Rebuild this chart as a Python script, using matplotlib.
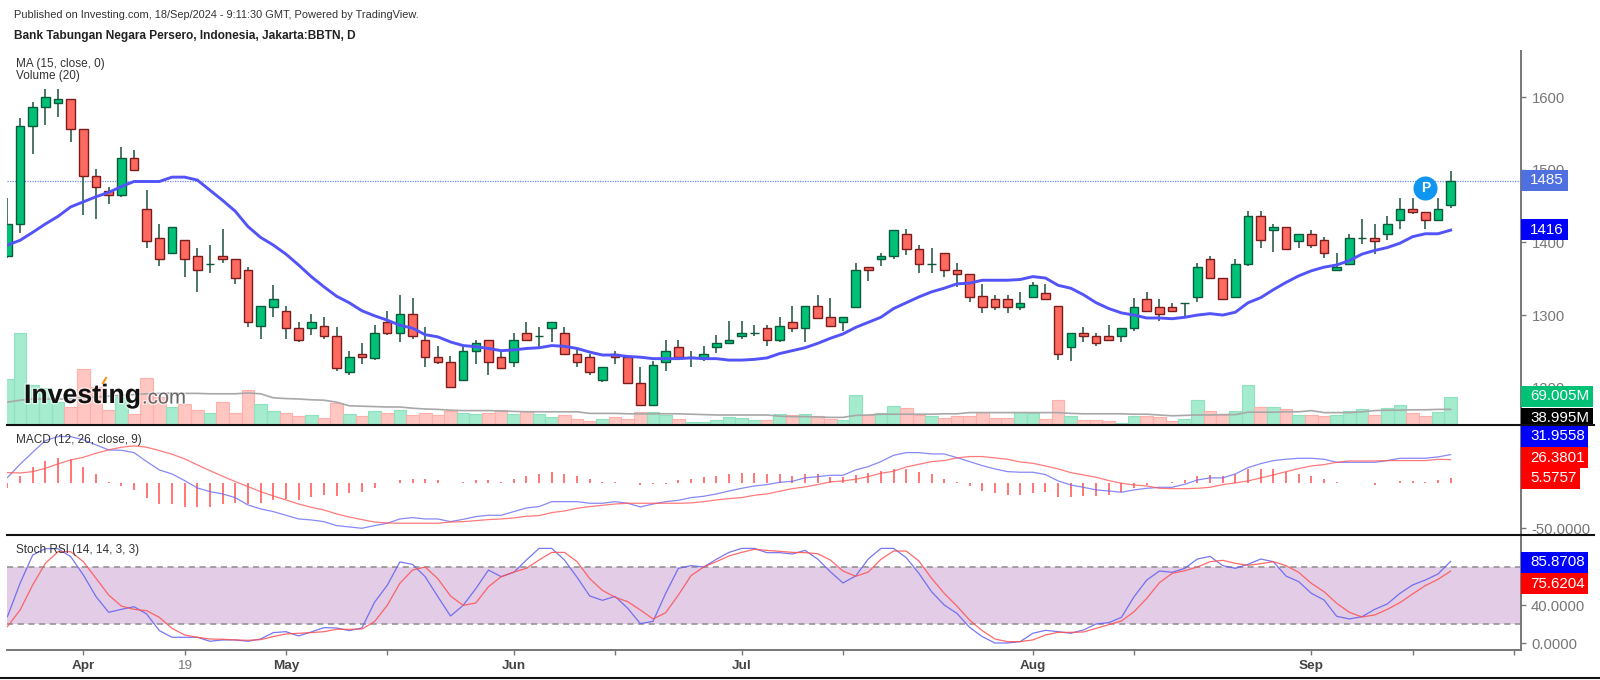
import matplotlib
matplotlib.use("Agg")
import matplotlib.pyplot as plt
from matplotlib.patches import Rectangle
from matplotlib.lines import Line2D
from matplotlib.transforms import Bbox
import matplotlib.patheffects as pe

plt.rcParams['font.family'] = ['Liberation Sans', 'DejaVu Sans']

opens = [1381,1426,1560,1586,1592,1597,1557,1491,1471,1465,1517,1446,1406,1386,1403,1382,1371,1382,1377,1362,
         1285,1311,1305,1282,1282,1285,1271,1222,1247,1241,1291,1276,1302,1266,1242,1236,1211,1251,1266,1242,
         1236,1276,1271,1282,1276,1247,1242,1210,1247,1242,1207,1176,1236,1256,1242,1241,1256,1261,1271,1276,
         1282,1265,1291,1282,1312,1297,1291,1311,1366,1377,1382,1412,1391,1371,1386,1362,1356,1326,1322,1322,
         1311,1325,1331,1312,1256,1276,1271,1271,1271,1282,1322,1311,1311,1316,1325,1377,1351,1325,1371,1437,
         1417,1422,1402,1411,1403,1362,1371,1406,1406,1411,1431,1446,1442,1431,1451]
highs = [1461,1572,1593,1612,1612,1597,1557,1501,1477,1532,1527,1472,1426,1422,1403,1392,1397,1418,1377,1366,
         1312,1342,1312,1291,1302,1297,1283,1251,1262,1286,1306,1327,1323,1283,1257,1243,1256,1266,1266,1251,
         1276,1291,1283,1291,1283,1256,1247,1228,1251,1242,1228,1237,1266,1266,1251,1257,1272,1292,1292,1286,
         1286,1297,1312,1312,1327,1323,1297,1372,1366,1386,1417,1418,1397,1392,1386,1372,1356,1343,1327,1327,
         1332,1346,1343,1312,1276,1283,1276,1286,1282,1323,1332,1322,1316,1316,1372,1382,1351,1377,1443,1443,
         1426,1422,1411,1417,1407,1386,1411,1432,1426,1437,1461,1461,1442,1461,1498]
lows = [1378,1413,1522,1562,1573,1538,1438,1432,1453,1462,1498,1392,1367,1384,1352,1332,1358,1372,1343,1283,
        1267,1298,1267,1263,1272,1267,1223,1217,1232,1238,1273,1263,1267,1228,1232,1201,1211,1232,1217,1227,
        1228,1266,1253,1263,1247,1228,1217,1208,1232,1207,1176,1176,1223,1242,1228,1237,1248,1261,1267,1271,
        1257,1263,1277,1263,1296,1285,1278,1311,1347,1367,1377,1383,1358,1358,1352,1338,1318,1303,1307,1303,
        1307,1323,1322,1238,1237,1263,1257,1264,1263,1278,1305,1292,1304,1298,1318,1351,1322,1325,1367,1392,
        1387,1391,1392,1392,1378,1362,1371,1398,1384,1403,1418,1439,1418,1431,1447]
closes = [1426,1561,1587,1601,1597,1557,1491,1477,1466,1517,1500,1402,1377,1422,1377,1362,1371,1377,1351,1291,
          1312,1322,1282,1265,1291,1271,1227,1242,1242,1276,1276,1302,1271,1242,1236,1201,1251,1262,1236,1227,
          1266,1266,1271,1291,1247,1236,1221,1228,1242,1207,1176,1231,1251,1242,1242,1247,1262,1266,1276,1276,
          1265,1285,1282,1312,1296,1285,1297,1362,1362,1382,1417,1391,1371,1371,1362,1356,1325,1311,1311,1311,
          1317,1342,1322,1247,1276,1271,1261,1265,1282,1311,1305,1301,1306,1316,1366,1351,1322,1371,1437,1403,
          1422,1391,1411,1397,1386,1366,1406,1406,1402,1426,1446,1442,1431,1446,1485]
ma15 = [1396.5,1403,1414,1425.5,1436,1449,1456,1463,1469,1477,1484,1484,1484,1490,1490,1486,1472,1458,1443,1422,
        1407,1396.5,1384,1369,1353,1339,1326,1317,1306,1299,1293,1286,1282,1273,1270,1263,1258,1256.5,1254,1251,
        1252,1254,1255,1258,1257,1254,1249,1245,1245,1243,1242,1240,1240,1240,1241,1240,1240,1238,1238,1239,
        1241,1247,1251,1255,1261,1268,1274,1283,1290,1297,1309,1317,1325,1332,1337,1343,1344,1348,1348,1348,
        1349,1353,1351,1341,1337,1328,1317,1309,1303,1300,1296,1296,1295,1297,1300,1302,1300,1304,1317,1324,
        1335,1345,1354,1361,1366,1369,1375,1384,1389,1393,1399,1408,1412,1412,1417]
volume = [115,231,100,92,58,44,141,95,37,71,27,118,71,44,52,37,31,58,31,87,
          52,35,31,22,24,17,54,27,22,35,31,37,25,31,25,34,31,27,31,37,
          27,34,27,21,25,14,11,14,21,14,33,33,25,14,7,7.5,12,21,17,13,
          12,27,25,27,23,14,12,74,25,31,47,42,25,22,17,22,22,33,17,17,
          32,29,14,62,23,12.5,12.5,10,6,23,23,21,10,16,62,36,26,36,99,46,
          46,40,26,26,23,26,36,39,26,42,49,30,23,33,69.005]
vol_ma = [57,62,65,65,65,65,68,70,72,74,76,78,79,80,79,79,78,78,78,80,
          78,68,66,65,63,62,57,48,47,46,45,45,42,40,39,37,36,36,36,35,
          34,33,33,33,33,33,29,29,29,28,28,28,28,28,27,26,25,25,25,25,
          25,22,21,21,20,19,19,24,25,27,27,27,27,27,28,28,31,31,31,31,
          31,31,31,31,29,28,28,28,28,27,27,25,23,24,25,25,26,26,32,32,
          32,33,33,36,31,31,31,33,36,37,37,38,38,39,38.995]
macd_line = [6.3,21.2,34.6,47.6,52.1,52.1,48.4,42.8,37.2,36.8,34.2,24.2,14.9,10.4,3.0,-5.2,-9.3,-11.9,-16,-24.2,
             -28.6,-31.6,-35.7,-39.8,-40.9,-42.8,-47.2,-48.7,-50.2,-47.2,-44.6,-39.8,-38.3,-39.8,-39.8,-42.8,-40.2,-37.2,-35.7,-35.7,
             -31.6,-27.5,-26,-20.5,-20.5,-20.5,-22.3,-22.3,-20.5,-22.3,-26.4,-23.1,-20.5,-19,-16,-14.5,-11.9,-8.6,-5.6,-3,
             -1.5,1.1,2.2,6,7.4,8.9,8.9,14.9,18.6,24.2,31.2,34.2,34.2,32.7,32.7,28.6,24.2,19.7,16,13,
             12.3,12.3,9.7,2.6,-1.9,-4.5,-7.4,-8.6,-10,-7.4,-5.6,-4.5,-4.5,-1.1,3.7,6,6,10.4,17.5,21.9,
             25.3,26.8,27.9,27.9,26.8,23.4,23.4,23.4,23.4,25.3,27.9,27.9,27.9,29.4,31.9558]
macd_signal = [11.9,11.5,13,16.7,21.6,26,29,33.5,37.2,40.2,41.7,40.2,36.5,32.4,27.2,20.5,14.1,7.8,1.9,-3.7,
               -9.3,-14.1,-18.6,-23.1,-26.8,-29.8,-34.2,-37.6,-40.5,-43.2,-44.3,-44.6,-44.6,-44.6,-44.6,-43.2,-42.8,-41.7,-40.5,-39.8,
               -38.7,-36.8,-36.1,-32.7,-30.9,-27.9,-26,-24.6,-23.1,-22.3,-22.3,-22.3,-22.3,-22.3,-21.9,-20.5,-18.6,-17.1,-16,-13.4,
               -11.9,-8.9,-6,-4.1,-1.5,1.5,2.6,4.5,7.4,11.2,13.4,18.2,21.2,24.2,25.3,28.3,29.8,29.8,28.3,26.8,
               23.8,22.3,19.3,16,11.9,9.3,6.7,3,0,-1.9,-3,-5.6,-6,-6,-5.6,-4.5,-1.5,0.4,2.6,6,
               9.3,13,16.4,19.3,20.8,23.4,24.9,24.9,24.9,25.3,25.3,25.3,25.3,26.8,26.3801]
macd_hist = [-5.6,8.2,18.6,25.3,28.3,26.8,18.6,10,1.1,-2.5,-7,-16.7,-23,-23,-26,-26,-26,-23,-21.6,-23,
             -21.6,-18.6,-17.9,-18.6,-14.9,-12.6,-14.5,-11.2,-9.7,-5.6,0.4,3.7,4.8,4.8,3.7,0.7,1.5,3.7,3.7,1.9,
             4.8,8.2,10,13,10,8.2,5.2,1.9,1.9,0.3,-1.9,-1.1,-0.4,3.7,5.2,7.1,8.2,10,11.2,11.2,
             10,10,8.2,10,10,7.1,7.1,9.3,11.2,13.4,16.4,16,13,10,5.2,1.9,-2.6,-8.6,-11.2,-12.6,
             -12.6,-11.2,-9.7,-14.9,-14.9,-14.1,-14.1,-12.6,-9.7,-5.6,-2.2,0.3,1.5,3.3,7.8,9.3,7.8,10.8,16,16,
             16,13,10.8,8.2,5.2,1.1,0.1,0.1,-1.5,0.1,2.2,2.2,1.9,3.7,5.5757]
stoch_k = [27.7,62.8,92.6,99.3,99.3,90.9,71.6,48.8,32.3,35.4,38.2,30.5,13,6,6,6,1.8,3.2,3.2,1.8,
           4.2,10.9,11.9,7.4,11.6,16.1,15.8,13,15.8,42.8,60.7,85.3,82.8,69.8,48.8,28.4,39.6,57.2,76.8,69.8,
           74.4,87.4,99.6,99.6,87.4,69.1,49.5,44.9,49.1,36.5,20.4,22.8,52.3,78.6,81.4,80,88.1,95.4,99.6,99.6,
           95.1,95.1,93.7,97.5,88.4,75.1,63.2,70.5,88.4,99.6,99.6,89.8,73.3,54,40,31.2,16.5,6.7,0,0,
           1.4,10.2,13.3,11.9,10.2,13.7,20,21.4,27,48.8,66.3,75.8,74.4,78.6,88.4,91.2,81.4,78.6,82.8,88.4,
           85.6,70.5,64.6,52.3,45.3,28.1,25.3,27.7,35.4,41.1,52.3,61.1,66.3,72.6,85.8708]
stoch_d = [17.2,34.7,61.1,83.9,96.1,96.1,85.6,68.1,50.5,38.9,35.4,34,27,15.4,8.4,6,4.2,3.9,3.2,2.8,
           3.5,6.7,9.5,10.2,10.9,11.9,14.4,14.4,14.7,22.5,39.6,62.8,76.8,80,67.7,49.5,39.6,42.1,59.3,69.8,
           74.7,78.6,87.4,95.4,95.4,85.6,67.7,55.4,48.1,43.5,34.7,25.3,31.9,50.5,70.9,80,85.6,91.6,95.4,98.6,
           97.5,96.5,95.4,95.1,94,87.4,75.8,70.2,74.7,88.1,96.8,96.8,86.3,68.1,52.3,38.9,24.2,13,4.2,1.4,
           1.4,3.2,8.4,11.2,11.2,11.6,15.4,19.3,23.2,33,47,63.5,73.3,76.1,80,85.6,87,83.9,81.8,83.5,
           85.6,81.4,74.4,62.8,54,41.8,32.3,27.4,29.5,35.4,42.5,51.6,60.4,67,75.6204]

tick_pos = [6, 14, 22, 30, 40, 48, 58, 66, 81, 89, 103, 111, 119]
tick_lab = ['Apr', '19', 'May', '', 'Jun', '', 'Jul', '', 'Aug', '', 'Sep', '', '']
price_ticks = [1200, 1300, 1400, 1500, 1600]

W, H = 1600, 680
fig = plt.figure(figsize=(16, 6.8), dpi=100, facecolor='white')


def rect(x0, y0, x1, y1):
    return [x0 / W, 1 - y1 / H, (x1 - x0) / W, (y1 - y0) / H]


def fx(x):
    return x / W


def fy(y):
    return 1 - y / H


X0, X1 = 7.4, 1521
XLIM = (0, 119.56)
GRAY = '#777777'
n = len(closes)
xs = list(range(n))

# volume underlay
av = fig.add_axes(rect(X0, 0, X1, 425), zorder=1)
av.set_xlim(XLIM)
av.set_ylim(0, 1062)
av.axis('off')
vcol = ['#A5EBCD' if c >= o else '#FFC6C2' for o, c in zip(opens, closes)]
vedge = ['#8FE2BE' if c >= o else '#FFB0AB' for o, c in zip(opens, closes)]
av.bar(xs, volume, width=1.0, color=vcol, edgecolor=vedge, linewidth=0.8)
av.plot(xs, vol_ma, color='#A8A8A8', lw=1.2)

# price
ap = fig.add_axes(rect(X0, 0, X1, 425), zorder=2)
ap.patch.set_alpha(0)
ap.set_xlim(XLIM)
ap.set_ylim(1148.6, 1734)
for s in ('left', 'top', 'bottom'):
    ap.spines[s].set_visible(False)
ap.spines['right'].set_color(GRAY)
ap.spines['right'].set_linewidth(1.4)
ap.spines['right'].set_bounds(1148.6, 1664)
ap.set_xticks([])
ap.yaxis.tick_right()
ap.set_yticks(price_ticks)
ap.set_yticklabels([str(t) for t in price_ticks], fontsize=10.7, color=GRAY)
ap.tick_params(axis='y', length=3.5, width=1, color=GRAY, pad=4)
ap.axhline(closes[-1], color='#6F8CF5', lw=0.9, ls=(0, (1, 1)), zorder=1)
wick = '#2F5F4D'
ap.vlines(xs, lows, highs, color=wick, lw=1.2, zorder=2)
bcol = ['#00C176' if c >= o else '#FF6A60' for o, c in zip(opens, closes)]
becol = ['#0B5A3C' if c >= o else '#7A1C1C' for o, c in zip(opens, closes)]
bott = [min(o, c) for o, c in zip(opens, closes)]
hgt = [abs(c - o) for o, c in zip(opens, closes)]
ap.bar(xs, hgt, bottom=bott, width=0.68, color=bcol, edgecolor=becol, linewidth=1.0, zorder=3)
ap.plot(xs, ma15, color='#5353FA', lw=2.1, zorder=4, solid_joinstyle='round')
ap.scatter([112], [1475], s=300, color='#0E96F0', zorder=6, linewidths=0)
ap.text(112, 1475, 'P', color='white', fontsize=10, fontweight='bold', ha='center', va='center', zorder=7)

# MACD
am = fig.add_axes(rect(X0, 425, X1, 535), zorder=2)
am.patch.set_alpha(0)
am.set_xlim(XLIM)
am.set_ylim(-57.7, 65)
for s in ('left', 'top', 'bottom'):
    am.spines[s].set_visible(False)
am.spines['right'].set_color(GRAY)
am.spines['right'].set_linewidth(1.4)
am.set_xticks([])
am.yaxis.tick_right()
am.set_yticks([-50])
am.set_yticklabels([''])
am.tick_params(axis='y', length=3.5, width=1, color=GRAY)
am.vlines(xs, [0] * n, macd_hist, color='#FF2A2A', lw=1.2, alpha=0.75)
am.plot(xs, macd_line, color='#6A6AF5', lw=0.9, alpha=0.8)
am.plot(xs, macd_signal, color='#FF5A5A', lw=0.9, alpha=0.8)

# Stoch RSI
ar = fig.add_axes(rect(X0, 535, X1, 650), zorder=2)
ar.patch.set_alpha(0)
ar.set_xlim(XLIM)
ar.set_ylim(-7.4, 113.7)
for s in ('left', 'top'):
    ar.spines[s].set_visible(False)
for s in ('right', 'bottom'):
    ar.spines[s].set_color(GRAY)
    ar.spines[s].set_linewidth(1.4)
ar.axhspan(20, 80, color='#E3CCE6', lw=0, zorder=0)
ar.axhline(80, color='#8C8C8C', lw=1.1, ls=(0, (4, 3)), zorder=1)
ar.axhline(20, color='#8C8C8C', lw=1.1, ls=(0, (4, 3)), zorder=1)
ar.plot(xs, stoch_k, color='#5F5FF0', lw=0.9, alpha=0.85, zorder=3)
ar.plot(xs, stoch_d, color='#FF5050', lw=0.9, alpha=0.85, zorder=3)
ar.yaxis.tick_right()
ar.set_yticks([0, 40])
ar.set_yticklabels(['', ''])
ar.tick_params(axis='y', length=3.5, width=1, color=GRAY)
ar.set_xticks(tick_pos)
ar.set_xticklabels(tick_lab, fontsize=9.7, color='#444444', fontweight='bold')
ar.tick_params(axis='x', length=3.5, width=1, color=GRAY, pad=4)
for lab in ar.get_xticklabels():
    if lab.get_text() == '19':
        lab.set_fontweight('normal')
        lab.set_color(GRAY)

# Texts
fig.text(fx(14), fy(15.5), 'Published on Investing.com, 18/Sep/2024 - 9:11:30 GMT, Powered by TradingView.',
         fontsize=7.95, color='#333333', va='center')
fig.text(fx(13.5), fy(35.5), 'Bank Tabungan Negara Persero, Indonesia, Jakarta:BBTN, D',
         fontsize=8.55, color='#222222', va='center', fontweight='bold', zorder=5)
fig.text(fx(16), fy(64.5), 'MA (15, close, 0)', fontsize=8.5, color='#333333', va='center', zorder=5)
fig.text(fx(16), fy(76), 'Volume (20)', fontsize=8.5, color='#333333', va='center', zorder=5)
fig.text(fx(16), fy(440), 'MACD (12, 26, close, 9)', fontsize=8.5, color='#333333', va='center', zorder=5)
fig.text(fx(16), fy(550), 'Stoch RSI (14, 14, 3, 3)', fontsize=8.5, color='#333333', va='center', zorder=5)

halo = [pe.withStroke(linewidth=2, foreground='white', alpha=0.6)]
fig.text(fx(24), fy(396), 'Investing', fontsize=19.2, fontweight='bold', color='#111111', va='center',
         zorder=8, path_effects=halo)
fig.text(fx(142), fy(398), '.com', fontsize=14.6, color='#666666', va='center', zorder=8, path_effects=halo)
fig.add_artist(Line2D([fx(103), fx(106)], [fy(383), fy(378)], color='#F29A1F', lw=1.6, zorder=9))

# clipped axis values
for txt, ypx, top, bot in [('-50.0000', 530, 425, 534), ('40.0000', 607, 535, 650), ('0.0000', 645, 535, 649)]:
    t = fig.text(fx(1531), fy(ypx), txt, fontsize=10.7, color=GRAY, va='center', zorder=3)
    t.set_clip_on(True)
    t.set_clip_box(Bbox([[1521, H - bot], [1600, H - top]]))

# value boxes
boxes = [('1485', '#4F70E0', 170, 191, 1568), ('1416', '#0000FF', 219, 240, 1568),
         ('69.005M', '#00C176', 386, 407, 1593), ('38.995M', '#000000', 408, 425, 1593),
         ('31.9558', '#0000FF', 426, 447, 1588), ('26.3801', '#FF0000', 447, 468, 1588),
         ('5.5757', '#FF0000', 468, 489, 1580), ('85.8708', '#0000FF', 552, 573, 1588),
         ('75.6204', '#FF0000', 573, 594, 1588)]
for txt, col, y0, y1, x1 in boxes:
    fig.add_artist(Rectangle((fx(1521), fy(y1)), (x1 - 1521) / W, (y1 - y0) / H, facecolor=col,
                             edgecolor='none', transform=fig.transFigure, zorder=10))
    t = fig.text(fx(1530), fy((y0 + y1) / 2 + (2 if txt == '38.995M' else 0)), txt, fontsize=10.9, color='white',
                 va='center', zorder=11)
    t.set_clip_on(True)
    t.set_clip_box(Bbox([[1521, H - y1], [1600, H - y0]]))

# separators
for ypx, xa, xb, col, lw in [(425, X0, 1594, '#111111', 1.5), (535, X0, 1594, '#111111', 1.5),
                             (678, 0, 1600, '#111111', 1.5)]:
    fig.add_artist(Line2D([fx(xa), fx(xb)], [fy(ypx), fy(ypx)], color=col, lw=lw, zorder=12))

fig.savefig('out.png', dpi=100, facecolor='white')
